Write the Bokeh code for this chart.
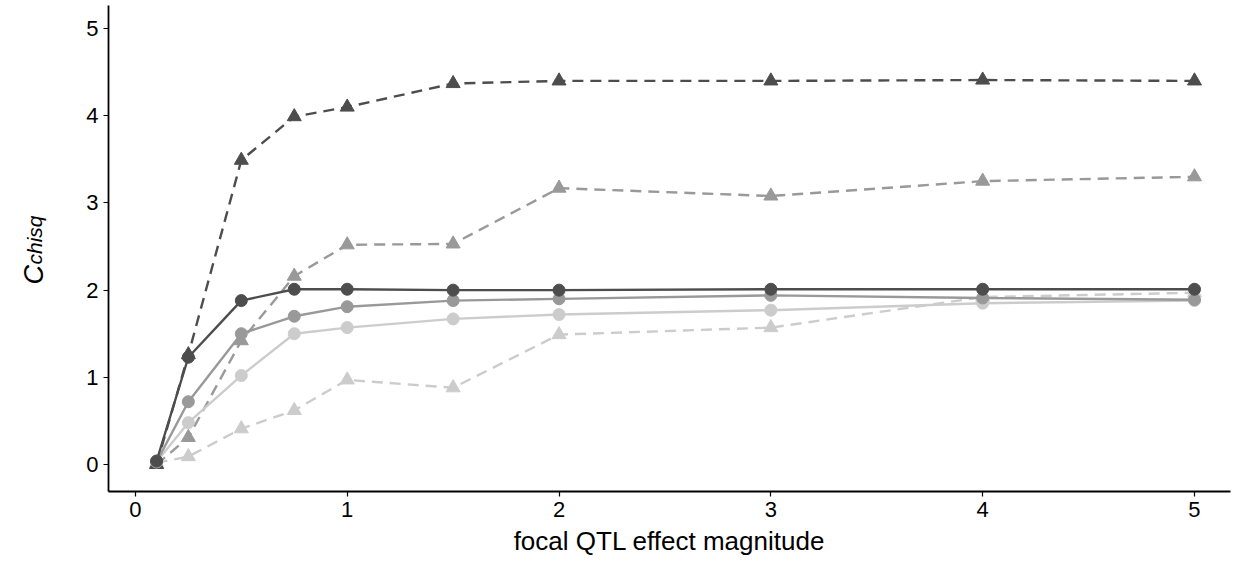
from bokeh.plotting import figure
from bokeh.layouts import row
from bokeh.models import Range1d, FixedTicker
from bokeh.core.properties import value
from bokeh.embed import file_html
from bokeh.resources import INLINE
import math

x_vals = [0.1, 0.25, 0.5, 0.75, 1, 1.5, 2, 3, 4, 5]

# dashed lines with triangles
tri_dark = [0.0, 1.26, 3.49, 3.99, 4.10, 4.37, 4.40, 4.40, 4.41, 4.40]
tri_mid = [0.0, 0.31, 1.42, 2.16, 2.52, 2.53, 3.17, 3.08, 3.25, 3.30]
tri_light = [0.02, 0.09, 0.41, 0.62, 0.97, 0.88, 1.49, 1.57, 1.92, 1.97]

# solid lines with circles
circ_dark = [0.04, 1.23, 1.88, 2.01, 2.01, 2.00, 2.00, 2.01, 2.01, 2.01]
circ_mid = [0.03, 0.72, 1.50, 1.70, 1.81, 1.88, 1.90, 1.94, 1.91, 1.89]
circ_light = [0.03, 0.48, 1.02, 1.50, 1.57, 1.67, 1.72, 1.77, 1.85, 1.88]

x_ticks = [0, 1, 2, 3, 4, 5]
y_ticks = [0, 1, 2, 3, 4, 5]

x_title = "focal QTL effect magnitude"
y_title_main = "C"
y_title_sub = "chisq"

DARK, MID, LIGHT = "#4d4d4d", "#999999", "#cccccc"
FONT = "Liberation Sans"
H = 561
LBL_W = 80
TOP, BOTTOM = 5, 70

# --- strip holding the rotated y-axis title; its frame is aligned with the
#     main plot's frame, so its y range is expressed in pixels from the top ---
lab = figure(width=LBL_W, height=H, output_backend="svg", toolbar_location=None,
             x_range=Range1d(0, LBL_W), y_range=Range1d(H - BOTTOM, TOP),
             min_border_left=0, min_border_right=0, min_border_top=TOP,
             min_border_bottom=BOTTOM)
lab.axis.visible = False
lab.grid.visible = False
lab.outline_line_color = None
lab.text(x=[33], y=[284], text=[y_title_main], angle=math.pi / 2,
         text_font=value(FONT), text_font_style="italic", text_font_size="27px",
         text_align="left", text_baseline="alphabetic", text_color="black")
lab.text(x=[34], y=[264], text=[y_title_sub], angle=math.pi / 2,
         text_font=value(FONT), text_font_style="italic", text_font_size="21px",
         text_align="left", text_baseline="alphabetic", text_color="black")

# --- main plot ---
p = figure(width=1235 - LBL_W, height=H, output_backend="svg", toolbar_location=None,
           x_range=Range1d(-0.127, 5.17), y_range=Range1d(-0.31, 5.265),
           min_border_left=108 - LBL_W, min_border_right=5, min_border_top=TOP,
           min_border_bottom=BOTTOM)
p.outline_line_color = None
p.xgrid.visible = False
p.ygrid.visible = False

series = [
    (tri_light, LIGHT, "triangle"),
    (tri_mid, MID, "triangle"),
    (tri_dark, DARK, "triangle"),
    (circ_light, LIGHT, "circle"),
    (circ_mid, MID, "circle"),
    (circ_dark, DARK, "circle"),
]
for ys, col, mk in series:
    if mk == "triangle":
        p.line(x_vals, ys, line_color=col, line_width=2.4, line_dash="11 7")
    else:
        p.line(x_vals, ys, line_color=col, line_width=2.4)
for ys, col, mk in series:
    if mk == "triangle":
        p.scatter(x_vals, ys, marker="triangle", size=14, fill_color=col, line_color=col)
    else:
        p.scatter(x_vals, ys, marker="circle", size=12, fill_color=col, line_color=col)

for ax in (p.xaxis[0], p.yaxis[0]):
    ax.axis_line_color = "black"
    ax.axis_line_width = 1.8
    ax.major_tick_line_color = "black"
    ax.major_tick_line_width = 1.2
    ax.major_tick_out = 5
    ax.major_tick_in = 0
    ax.minor_tick_line_color = None
    ax.major_label_text_font = FONT
    ax.major_label_text_font_size = "22px"
    ax.major_label_text_color = "black"
    ax.major_label_standoff = 5

p.xaxis.ticker = FixedTicker(ticks=x_ticks)
p.yaxis.ticker = FixedTicker(ticks=y_ticks)
p.xaxis.axis_label = x_title
p.xaxis.axis_label_text_font = FONT
p.xaxis.axis_label_text_font_style = "normal"
p.xaxis.axis_label_text_font_size = "26px"
p.xaxis.axis_label_text_color = "black"
p.xaxis.axis_label_standoff = 6

layout = row(lab, p, spacing=0)
open("out.html", "w").write(file_html(layout, INLINE))
